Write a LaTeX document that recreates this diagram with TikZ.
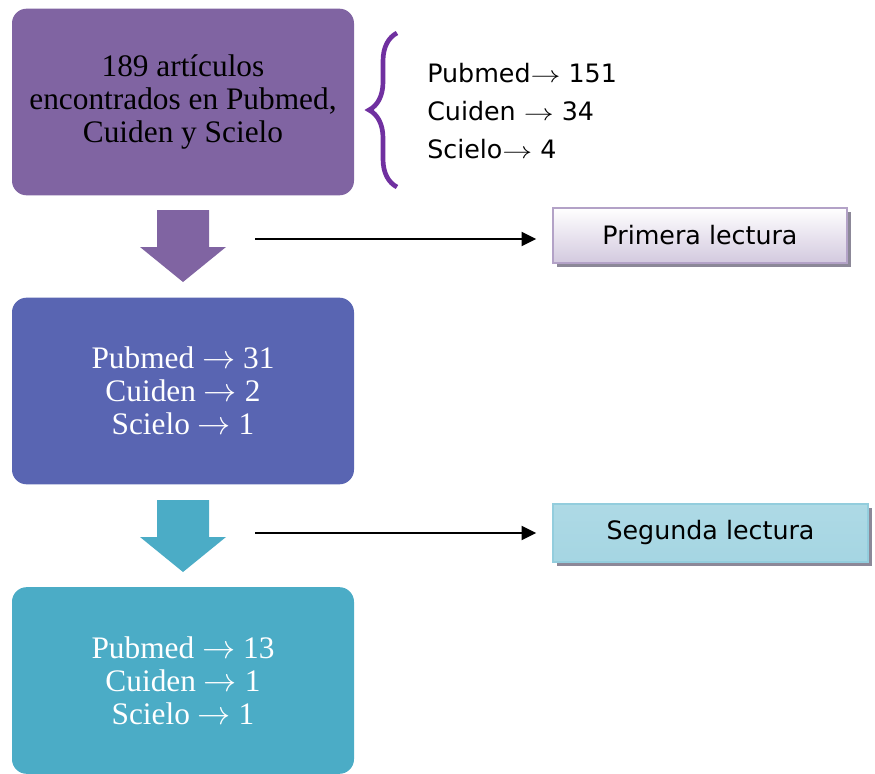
\documentclass[tikz,border=0pt]{standalone}
\usepackage{fontspec}
\setmainfont{Liberation Serif}
\newfontfamily\labelfont{DejaVu Sans}
\usetikzlibrary{positioning,shadows,arrows.meta,decorations.pathreplacing}

\definecolor{boxpurple}{HTML}{8064A2}
\definecolor{boxblue}{HTML}{5965B2}
\definecolor{boxteal}{HTML}{4BACC6}
\definecolor{bracepurple}{HTML}{7030A0}
\definecolor{shadowgray}{HTML}{8C8898}

\newcommand{\srcarrow}{\scalebox{1.3}[1]{$\rightarrow$}}

\tikzset{
	stagebox/.style={rounded corners=11pt, minimum width=256.5pt, minimum height=140pt,
		align=center, font=\fontsize{23.5}{24.75}\selectfont},
	readbox/.style={draw, line width=1.2pt, font=\labelfont\fontsize{19}{23}\selectfont,
		drop shadow={shadow xshift=3pt, shadow yshift=-3pt, fill=shadowgray, opacity=1}},
	pointer/.style={-{Triangle[length=11pt,width=10.5pt]}, line width=1.5pt, shorten >=12pt},
}

\begin{document}
\begin{tikzpicture}[x=0.75pt, y=-0.75pt]
	\useasboundingbox (0,0) rectangle (875,774);
	
	% the three stages
	\node [stagebox, fill=boxpurple] (found) at (183,102) {189 artículos\\encontrados en Pubmed,\\Cuiden y Scielo};
	\node [stagebox, fill=boxblue, text=white] (first) at (183,391) {Pubmed $\rightarrow$ 31\\Cuiden $\rightarrow$ 2\\Scielo $\rightarrow$ 1};
	\node [stagebox, fill=boxteal, text=white] (second) at (183,680.5) {Pubmed $\rightarrow$ 13\\Cuiden $\rightarrow$ 1\\Scielo $\rightarrow$ 1};
	
	% brace with the sources
	\coordinate (braceBot) at (397,187);
	\coordinate (braceTop) at (397,33);
	\draw [bracepurple, line width=3.5pt, decorate, decoration={brace, amplitude=21pt}] (braceBot) -- (braceTop);
	\node [anchor=west, align=left, inner sep=0pt, font=\labelfont\fontsize{19}{28.5}\selectfont] (sources) at (427,111)
		{Pubmed\srcarrow{} 151\\Cuiden \srcarrow{} 34\\Scielo\srcarrow{} 4};
	
	% block arrows
	\fill [boxpurple] (157,210) -- (209,210) -- (209,247) -- (226,247) -- (183,282) -- (140,247) -- (157,247) -- cycle;
	\fill [boxteal] (157,500) -- (209,500) -- (209,537) -- (226,537) -- (183,572) -- (140,537) -- (157,537) -- cycle;
	
	% readings
	\node [readbox, draw=boxpurple!60, top color=white, bottom color=boxpurple!35,
		minimum width=220.5pt, minimum height=41.25pt] (prim) at (700,235.5) {Primera lectura};
	\node [readbox, draw=boxteal!60, top color=boxteal!45, middle color=white!92!boxteal, bottom color=boxteal!50,
		minimum width=236.25pt, minimum height=43.5pt] (seg) at (710.5,533) {Segunda lectura};
	
	\coordinate (cue1) at (255,239);
	\coordinate (cue2) at (255,533);
	\draw [pointer] (cue1) -- (cue1 -| prim.west);
	\draw [pointer] (cue2) -- (cue2 -| seg.west);
\end{tikzpicture}
\end{document}
